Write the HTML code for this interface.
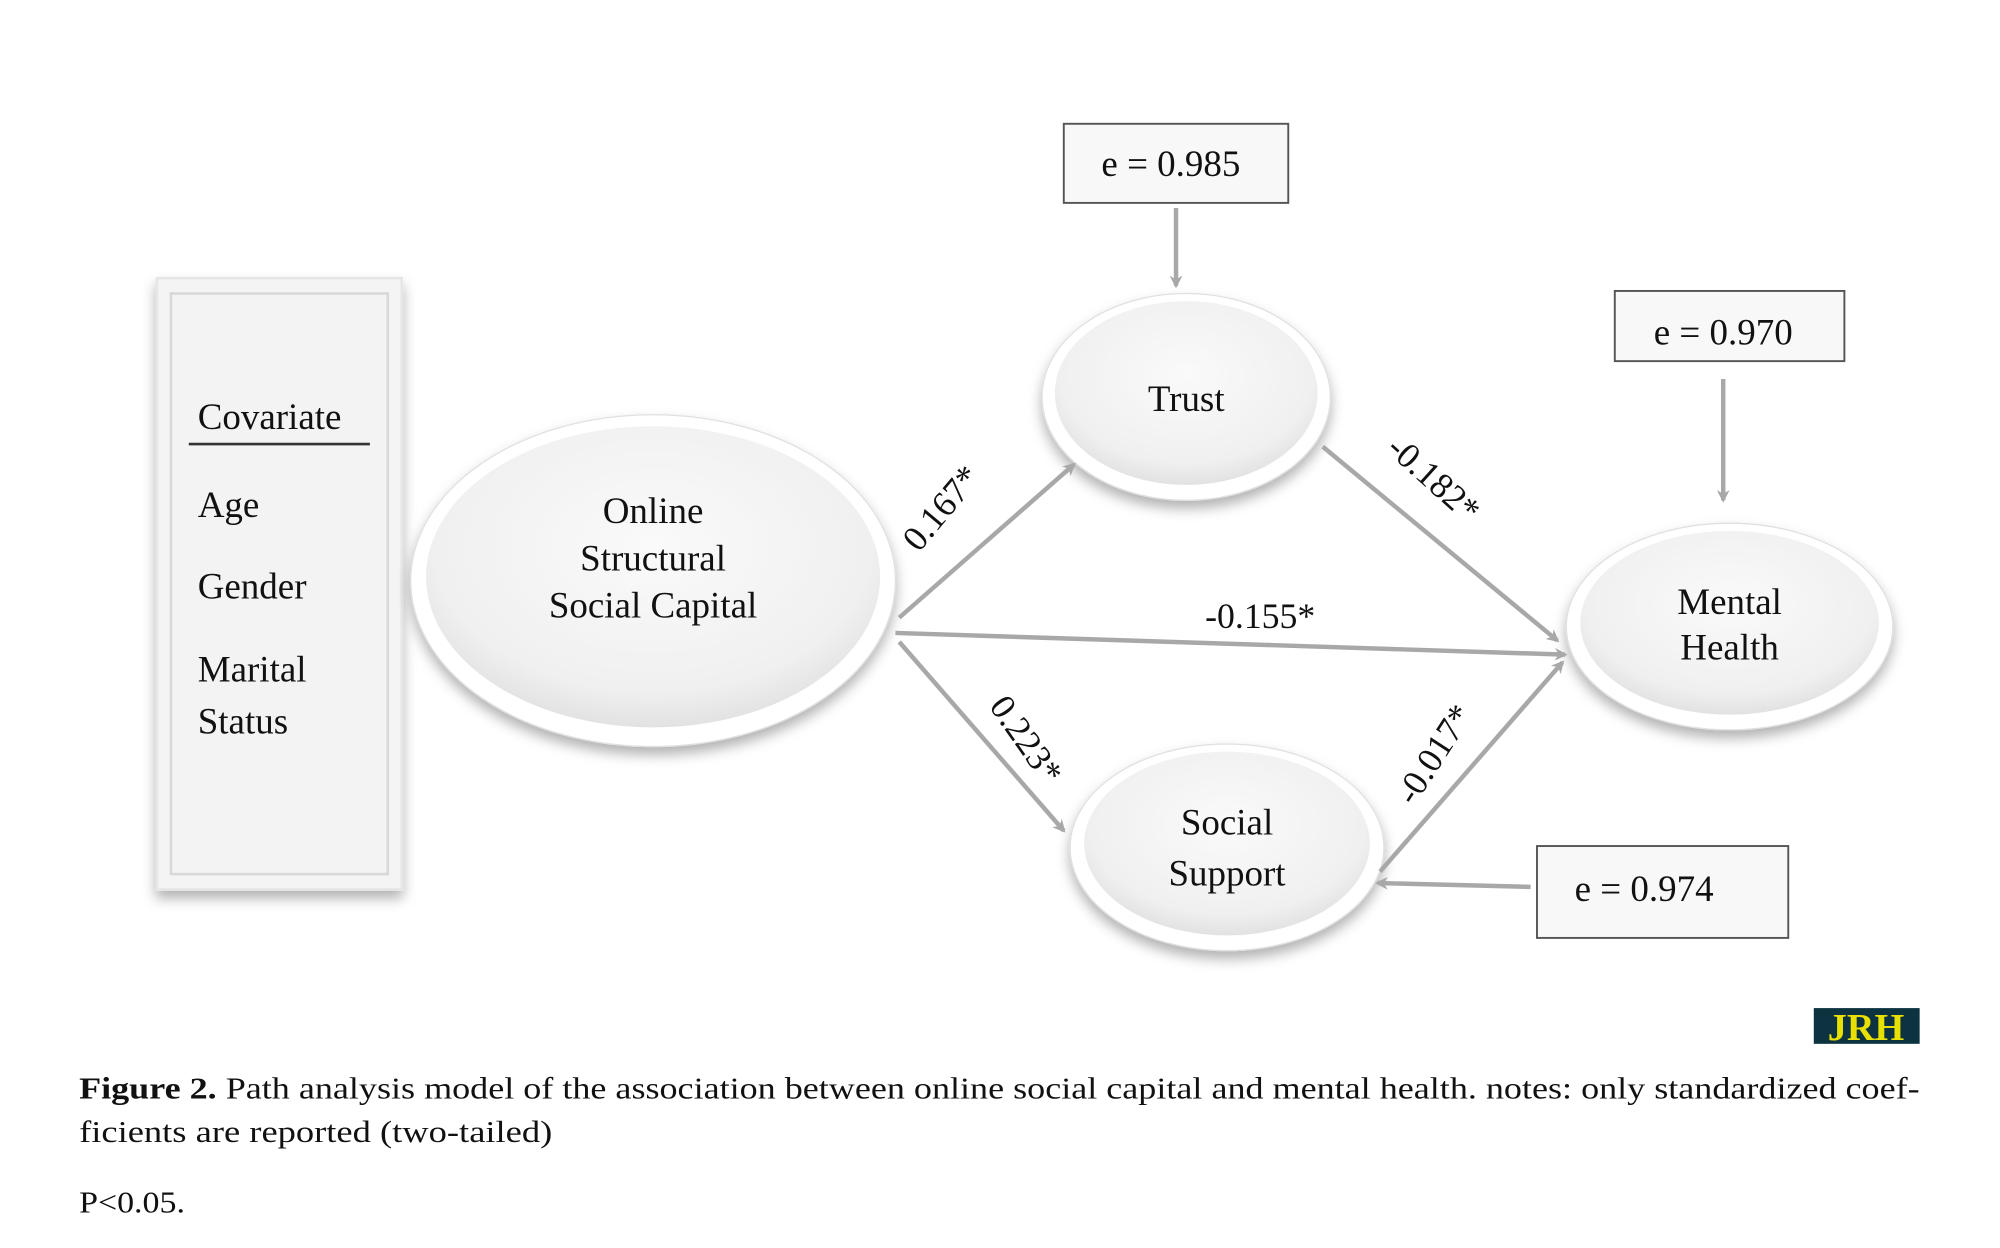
<!DOCTYPE html>
<html><head><meta charset="utf-8"><style>
html,body{margin:0;padding:0;background:#fff;}
svg{display:block;}
text{font-family:"Liberation Serif",serif;fill:#111;}
</style></head><body>
<svg width="2000" height="1248" viewBox="0 0 1568 978" preserveAspectRatio="none" xmlns="http://www.w3.org/2000/svg">
<defs>
<radialGradient id="g" cx="50%" cy="40%" r="60%"><stop offset="0" stop-color="#fafafa"/><stop offset="0.8" stop-color="#f0f0f0"/><stop offset="1" stop-color="#e2e2e2"/></radialGradient>
<filter id="sh" x="-20%" y="-20%" width="140%" height="150%"><feDropShadow dx="0" dy="6" stdDeviation="5" flood-color="#000" flood-opacity="0.3"/></filter>
<marker id="ar" markerWidth="10" markerHeight="10" refX="8" refY="5" orient="auto" markerUnits="userSpaceOnUse"><path d="M0,0 L10,5 L0,10 L3,5 z" fill="#a8a8a8"/></marker>
</defs>
<rect width="1568" height="978" fill="#fff"/>
<rect x="123" y="218" width="192" height="479" fill="#f4f4f4" stroke="#e6e6e6" stroke-width="2" filter="url(#sh)"/>
<rect x="134" y="230" width="170" height="455" fill="#f3f3f3" stroke="#d8d8d8" stroke-width="2"/>
<line x1="148" y1="348" x2="290" y2="348" stroke="#333" stroke-width="2"/>
<g font-size="29">
<text x="155" y="336">Covariate</text>
<text x="155" y="405">Age</text>
<text x="155" y="469">Gender</text>
<text x="155" y="534">Marital</text>
<text x="155" y="575">Status</text>
</g>
<g filter="url(#sh)">
<ellipse cx="512" cy="455" rx="190" ry="130" fill="#fff" stroke="#e0e0e0"/>
<ellipse cx="930" cy="311" rx="113" ry="81" fill="#fff" stroke="#e0e0e0"/>
<ellipse cx="1356" cy="491" rx="128" ry="81" fill="#fff" stroke="#e0e0e0"/>
<ellipse cx="962" cy="664" rx="123" ry="81" fill="#fff" stroke="#e0e0e0"/>
</g>
<ellipse cx="512" cy="452" rx="178" ry="118" fill="url(#g)"/>
<ellipse cx="930" cy="308" rx="103" ry="72" fill="url(#g)"/>
<ellipse cx="1356" cy="488" rx="117" ry="72" fill="url(#g)"/>
<ellipse cx="962" cy="661" rx="112" ry="72" fill="url(#g)"/>
<g font-size="29" text-anchor="middle">
<text x="512" y="410">Online</text>
<text x="512" y="447">Structural</text>
<text x="512" y="484">Social Capital</text>
<text x="930" y="322">Trust</text>
<text x="1356" y="481">Mental</text>
<text x="1356" y="517">Health</text>
<text x="962" y="654">Social</text>
<text x="962" y="694">Support</text>
</g>
<g fill="#f8f8f8" stroke="#555" stroke-width="1.5">
<rect x="834" y="97" width="176" height="62"/>
<rect x="1266" y="228" width="180" height="55"/>
<rect x="1205" y="663" width="197" height="72"/>
</g>
<g font-size="29" text-anchor="middle">
<text x="918" y="138">e = 0.985</text>
<text x="1351" y="270">e = 0.970</text>
<text x="1289" y="706">e = 0.974</text>
</g>
<g stroke="#a8a8a8" stroke-width="3.5" fill="none" marker-end="url(#ar)">
<line x1="922" y1="163" x2="922" y2="224"/>
<line x1="1351" y1="297" x2="1351" y2="392"/>
<line x1="1200" y1="695" x2="1080" y2="692"/>
<line x1="705" y1="484" x2="842" y2="364"/>
<line x1="705" y1="503" x2="834" y2="651"/>
<line x1="1037" y1="350" x2="1221" y2="502"/>
<line x1="702" y1="496" x2="1227" y2="513"/>
<line x1="1082" y1="683" x2="1225" y2="519"/>
</g>
<g font-size="28" text-anchor="middle">
<text transform="translate(745,404) rotate(-50)">0.167*</text>
<text transform="translate(1118,382) rotate(42)">-0.182*</text>
<text x="988" y="492">-0.155*</text>
<text transform="translate(797,585) rotate(55)">0.223*</text>
<text transform="translate(1132,596) rotate(-57)">-0.017*</text>
</g>
<rect x="1422" y="790" width="83" height="28" fill="#0d3340"/>
<text x="1463" y="815" font-size="30" font-weight="bold" text-anchor="middle" style="fill:#e8e000">JRH</text>
<g font-size="24">
<text x="62" y="861" textLength="1443" lengthAdjust="spacingAndGlyphs"><tspan font-weight="bold">Figure 2.</tspan> Path analysis model of the association between online social capital and mental health. notes: only standardized coef-</text>
<text x="62" y="895" textLength="371" lengthAdjust="spacingAndGlyphs">ficients are reported (two-tailed)</text>
<text x="62" y="950" textLength="83" lengthAdjust="spacingAndGlyphs">P&lt;0.05.</text>
</g>
</svg>
</body></html>
